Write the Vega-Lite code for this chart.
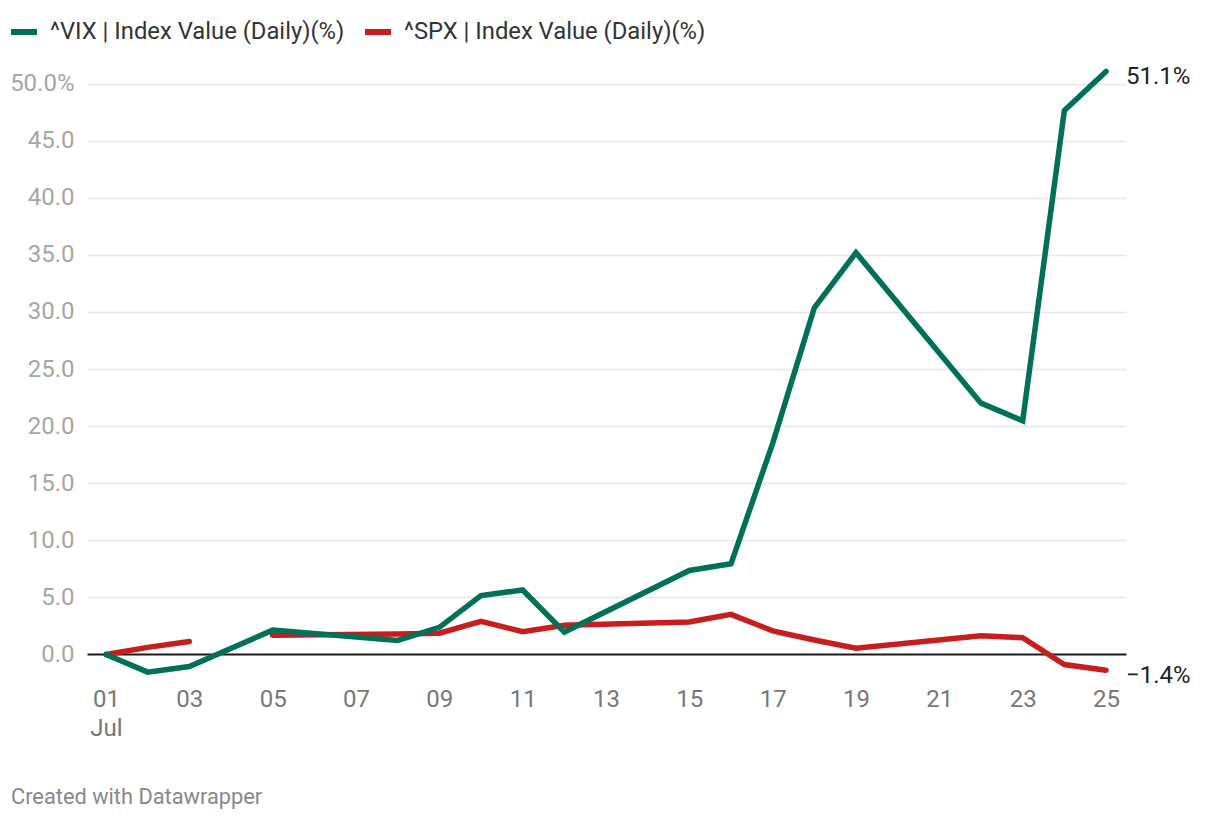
{
  "$schema": "https://vega.github.io/schema/vega-lite/v6.json",
  "width": 1039,
  "height": 628,
  "autosize": "none",
  "padding": {"left": 87, "top": 55, "right": 94, "bottom": 135},
  "background": "white",
  "config": {
    "font": "Roboto",
    "view": {"stroke": null},
    "title": {"font": "Roboto"}
  },
  "title": {
    "text": "Created with Datawrapper",
    "orient": "bottom",
    "anchor": "start",
    "frame": "group",
    "dx": -76,
    "offset": 47,
    "fontSize": 21.8,
    "fontWeight": "normal",
    "color": "#888888"
  },
  "data": {
    "values": [
      {"date": "2024-07-01", "series": "^SPX | Index Value (Daily)(%)", "value": 0},
      {"date": "2024-07-02", "series": "^SPX | Index Value (Daily)(%)", "value": 0.62},
      {"date": "2024-07-03", "series": "^SPX | Index Value (Daily)(%)", "value": 1.13},
      {"date": "2024-07-04", "series": "^SPX | Index Value (Daily)(%)", "value": null},
      {"date": "2024-07-05", "series": "^SPX | Index Value (Daily)(%)", "value": 1.68},
      {"date": "2024-07-08", "series": "^SPX | Index Value (Daily)(%)", "value": 1.79},
      {"date": "2024-07-09", "series": "^SPX | Index Value (Daily)(%)", "value": 1.86},
      {"date": "2024-07-10", "series": "^SPX | Index Value (Daily)(%)", "value": 2.9},
      {"date": "2024-07-11", "series": "^SPX | Index Value (Daily)(%)", "value": 2.0},
      {"date": "2024-07-12", "series": "^SPX | Index Value (Daily)(%)", "value": 2.56},
      {"date": "2024-07-15", "series": "^SPX | Index Value (Daily)(%)", "value": 2.85},
      {"date": "2024-07-16", "series": "^SPX | Index Value (Daily)(%)", "value": 3.51},
      {"date": "2024-07-17", "series": "^SPX | Index Value (Daily)(%)", "value": 2.07},
      {"date": "2024-07-18", "series": "^SPX | Index Value (Daily)(%)", "value": 1.27},
      {"date": "2024-07-19", "series": "^SPX | Index Value (Daily)(%)", "value": 0.55},
      {"date": "2024-07-22", "series": "^SPX | Index Value (Daily)(%)", "value": 1.63},
      {"date": "2024-07-23", "series": "^SPX | Index Value (Daily)(%)", "value": 1.47},
      {"date": "2024-07-24", "series": "^SPX | Index Value (Daily)(%)", "value": -0.88},
      {"date": "2024-07-25", "series": "^SPX | Index Value (Daily)(%)", "value": -1.38},
      {"date": "2024-07-01", "series": "^VIX | Index Value (Daily)(%)", "value": 0},
      {"date": "2024-07-02", "series": "^VIX | Index Value (Daily)(%)", "value": -1.55},
      {"date": "2024-07-03", "series": "^VIX | Index Value (Daily)(%)", "value": -1.06},
      {"date": "2024-07-05", "series": "^VIX | Index Value (Daily)(%)", "value": 2.13},
      {"date": "2024-07-08", "series": "^VIX | Index Value (Daily)(%)", "value": 1.23},
      {"date": "2024-07-09", "series": "^VIX | Index Value (Daily)(%)", "value": 2.37},
      {"date": "2024-07-10", "series": "^VIX | Index Value (Daily)(%)", "value": 5.16},
      {"date": "2024-07-11", "series": "^VIX | Index Value (Daily)(%)", "value": 5.65},
      {"date": "2024-07-12", "series": "^VIX | Index Value (Daily)(%)", "value": 1.96},
      {"date": "2024-07-15", "series": "^VIX | Index Value (Daily)(%)", "value": 7.36},
      {"date": "2024-07-16", "series": "^VIX | Index Value (Daily)(%)", "value": 7.94},
      {"date": "2024-07-17", "series": "^VIX | Index Value (Daily)(%)", "value": 18.49},
      {"date": "2024-07-18", "series": "^VIX | Index Value (Daily)(%)", "value": 30.36},
      {"date": "2024-07-19", "series": "^VIX | Index Value (Daily)(%)", "value": 35.19},
      {"date": "2024-07-22", "series": "^VIX | Index Value (Daily)(%)", "value": 22.01},
      {"date": "2024-07-23", "series": "^VIX | Index Value (Daily)(%)", "value": 20.46},
      {"date": "2024-07-24", "series": "^VIX | Index Value (Daily)(%)", "value": 47.63},
      {"date": "2024-07-25", "series": "^VIX | Index Value (Daily)(%)", "value": 51.06}
    ]
  },
  "encoding": {
    "x": {
      "field": "date",
      "type": "temporal",
      "scale": {
        "type": "utc",
        "domain": [
          {"year": 2024, "month": 6, "date": 30, "hours": 13, "minutes": 3, "utc": true},
          {"year": 2024, "month": 7, "date": 25, "hours": 11, "minutes": 31, "utc": true}
        ]
      },
      "axis": {
        "title": null,
        "domain": false,
        "ticks": false,
        "grid": false,
        "values": [
          {"year": 2024, "month": 7, "date": 1, "utc": true},
          {"year": 2024, "month": 7, "date": 3, "utc": true},
          {"year": 2024, "month": 7, "date": 5, "utc": true},
          {"year": 2024, "month": 7, "date": 7, "utc": true},
          {"year": 2024, "month": 7, "date": 9, "utc": true},
          {"year": 2024, "month": 7, "date": 11, "utc": true},
          {"year": 2024, "month": 7, "date": 13, "utc": true},
          {"year": 2024, "month": 7, "date": 15, "utc": true},
          {"year": 2024, "month": 7, "date": 17, "utc": true},
          {"year": 2024, "month": 7, "date": 19, "utc": true},
          {"year": 2024, "month": 7, "date": 21, "utc": true},
          {"year": 2024, "month": 7, "date": 23, "utc": true},
          {"year": 2024, "month": 7, "date": 25, "utc": true}
        ],
        "labelExpr": "utcdate(datum.value) == 1 ? ['01', 'Jul'] : utcFormat(datum.value, '%d')",
        "labelFontSize": 24,
        "labelColor": "#777777",
        "labelPadding": 4,
        "labelLineHeight": 29,
        "labelFlush": false,
        "labelOverlap": false
      }
    },
    "y": {
      "field": "value",
      "type": "quantitative",
      "scale": {"domain": [-2.5, 52.5], "nice": false, "zero": false},
      "axis": {
        "title": null,
        "domain": false,
        "ticks": false,
        "values": [0, 5, 10, 15, 20, 25, 30, 35, 40, 45, 50],
        "labelExpr": "datum.value == 50 ? '50.0%' : format(datum.value, '.1f')",
        "labelFontSize": 24,
        "labelColor": "#a6a6a6",
        "labelPadding": 13,
        "gridColor": {"condition": {"test": "datum.value === 0", "value": "#1a1a1a"}, "value": "#e6e6e6"},
        "gridWidth": {"condition": {"test": "datum.value === 0", "value": 2}, "value": 1.5}
      }
    }
  },
  "layer": [
    {
      "mark": {"type": "line", "strokeWidth": 5.5, "strokeCap": "round", "strokeJoin": "miter", "invalid": "break-paths-filter-domains"},
      "encoding": {
        "color": {
          "field": "series",
          "type": "nominal",
          "scale": {
            "domain": ["^VIX | Index Value (Daily)(%)", "^SPX | Index Value (Daily)(%)"],
            "range": ["#007058", "#c71e1d"]
          },
          "legend": {
            "title": null,
            "orient": "none",
            "direction": "horizontal",
            "legendX": -79,
            "legendY": -39,
            "padding": 0,
            "symbolType": "stroke",
            "symbolSize": 676,
            "symbolStrokeWidth": 6,
            "labelFontSize": 23.8,
            "labelColor": "#333333",
            "labelOffset": 10,
            "columnPadding": 8,
            "labelLimit": 600
          }
        }
      }
    },
    {
      "transform": [
        {"filter": "utcdate(datum.date) == 25"},
        {"calculate": "format(datum.value, '.1f') + '%'", "as": "label"}
      ],
      "mark": {"type": "text", "align": "left", "baseline": "middle", "dx": 20, "dy": 6, "fontSize": 24, "color": "#222222"},
      "encoding": {
        "text": {"field": "label"}
      }
    }
  ]
}
